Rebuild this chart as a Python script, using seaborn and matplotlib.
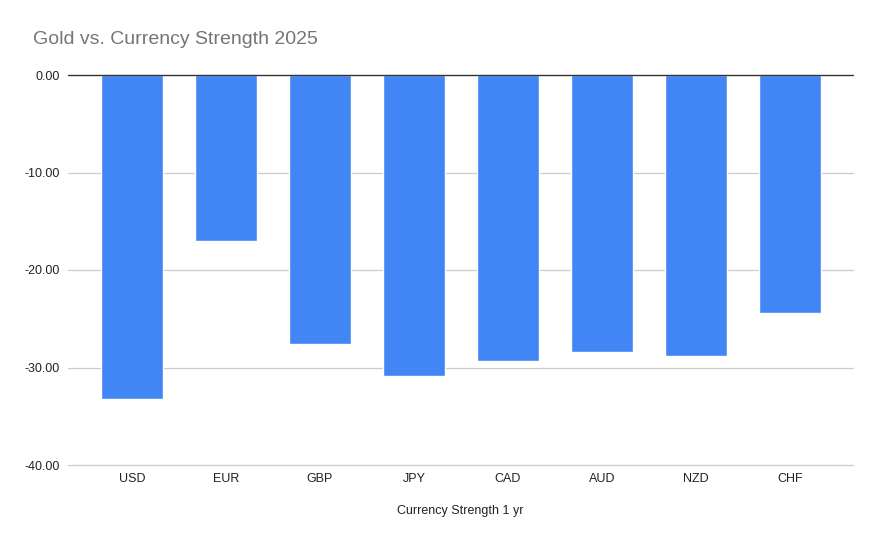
import matplotlib
matplotlib.use("Agg")
import matplotlib.pyplot as plt
import seaborn as sns
import pandas as pd

# data
currencies = ["USD", "EUR", "GBP", "JPY", "CAD", "AUD", "NZD", "CHF"]
strength_1yr = [-33.2, -17.0, -27.6, -30.9, -29.3, -28.4, -28.8, -24.4]
y_ticks = [0, -10, -20, -30, -40]

df = pd.DataFrame({"currency": currencies, "strength": strength_1yr})

sns.set_style("white")
plt.rcParams["font.family"] = ["Liberation Sans", "DejaVu Sans"]

fig = plt.figure(figsize=(8.81, 5.45), dpi=100)
ax = fig.add_axes([68 / 881, 80 / 545, 785 / 881, 390 / 545])

sns.barplot(data=df, x="currency", y="strength", color="#4285F4",
            saturation=1, width=0.65, ax=ax, zorder=3)

ax.set_ylim(-40, 0)
ax.set_xlim(-0.681, 7.67)
ax.set_yticks(y_ticks)
ax.set_yticklabels([f"{v:.2f}" for v in y_ticks])
# grid drawn by hand so the -40 line at the edge is not clipped
for v in y_ticks[1:]:
    ax.axhline(v, color="#cccccc", linewidth=0.9, zorder=0, clip_on=False)
ax.axhline(0, color="#333333", linewidth=1.0, zorder=4, clip_on=False)
for s in ax.spines.values():
    s.set_visible(False)

ax.tick_params(axis="both", length=0, labelsize=9, colors="#222222")
ax.tick_params(axis="y", pad=6)
ax.tick_params(axis="x", pad=6)
ax.set_ylabel("")
ax.set_xlabel("Currency Strength 1 yr", fontsize=9, color="#222222", labelpad=14)

fig.text(33 / 881, 1 - 40 / 545, "Gold vs. Currency Strength 2025",
         fontsize=14, color="#757575", va="center", ha="left")

fig.savefig("out.png", dpi=100)
